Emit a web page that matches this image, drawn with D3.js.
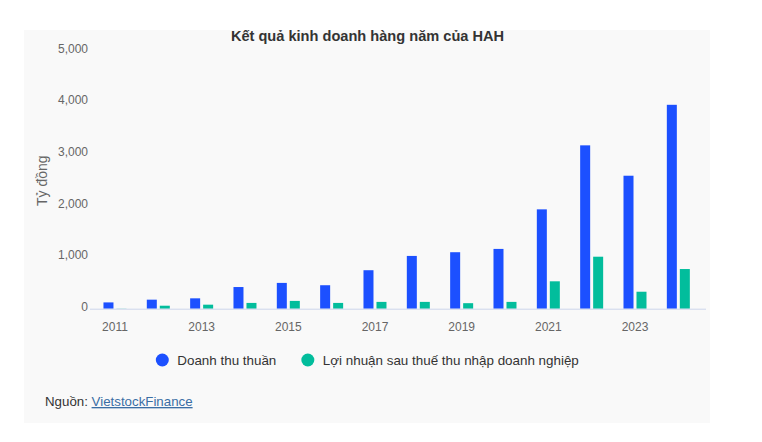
<!DOCTYPE html>
<html>
<head>
<meta charset="utf-8">
<script src="https://cdn.jsdelivr.net/npm/d3@7"></script>
<style>
    body { margin: 0; background: #ffffff; font-family: "Liberation Sans", Arial, sans-serif; }
    #wrapper svg { display: block; }
</style>
</head>
<body>
<div id="wrapper"></div>
<script>
// data
const years = ["2011", "2012", "2013", "2014", "2015", "2016", "2017",
    "2018", "2019", "2020", "2021", "2022", "2023", "2024"]
const revenue = [122, 175, 201, 420, 500, 455, 746, 1023, 1095, 1159, 1926, 3167, 2578, 3953]
const profit = [3, 58, 78, 112, 151, 112, 132, 132, 107, 132, 531, 1008, 329, 769]
const seriesNames = ["Doanh thu thuần", "Lợi nhuận sau thuế thu nhập doanh nghiệp"]
const seriesColors = ["#1c50ff", "#02bd9c"]
const yTicks = [0, 1000, 2000, 3000, 4000, 5000]
const xTickLabels = ["2011", "2013", "2015", "2017", "2019", "2021", "2023"]

function drawBarChart() {
    const dataset = years.map((y, i) => ({ year: y, values: [revenue[i], profit[i]] }))

    // chart dimensions
    let dimensions = {
        width: 762,
        height: 442,
        plot: { left: 93.3, right: 700, top: 50.8, bottom: 308.7 }
    }

    const wrapper = d3.select("#wrapper")
        .append("svg")
        .attr("width", dimensions.width)
        .attr("height", dimensions.height)

    // panel background
    wrapper.append("rect")
        .attr("x", 24)
        .attr("y", 30)
        .attr("width", 686)
        .attr("height", 393)
        .attr("fill", "#f9f9f9")

    // title
    wrapper.append("text")
        .attr("x", 367.5)
        .attr("y", 40.5)
        .attr("text-anchor", "middle")
        .attr("font-size", 14.6)
        .attr("font-weight", "bold")
        .attr("fill", "#333333")
        .text("Kết quả kinh doanh hàng năm của HAH")

    // scales
    const yScale = d3.scaleLinear()
        .domain([0, 5000])
        .range([dimensions.plot.bottom, dimensions.plot.top])

    const xScale = d3.scaleBand()
        .domain(years)
        .range([dimensions.plot.left, dimensions.plot.right])

    const xInner = d3.scaleBand()
        .domain(d3.range(seriesNames.length))
        .range([-11.5, 11.5])
        .paddingInner(0.23)

    // y axis labels
    const yAxis = wrapper.append("g")
        .attr("id", "y-axis")
        .attr("font-size", 12)
        .attr("fill", "#666666")

    yAxis.selectAll("text")
        .data(yTicks)
        .enter().append("text")
        .attr("x", 88)
        .attr("y", d => yScale(d) + 2)
        .attr("text-anchor", "end")
        .text(d => d3.format(",")(d))

    wrapper.append("text")
        .attr("transform", `translate(47, ${(dimensions.plot.top + dimensions.plot.bottom) / 2 + 1}) rotate(-90)`)
        .attr("text-anchor", "middle")
        .attr("font-size", 14)
        .attr("fill", "#666666")
        .text("Tỷ đồng")

    // bars
    const groups = wrapper.append("g")
        .selectAll("g")
        .data(dataset)
        .enter().append("g")
        .attr("transform", d => `translate(${xScale(d.year) + xScale.bandwidth() / 2}, 0)`)

    groups.selectAll("rect")
        .data(d => d.values)
        .enter().append("rect")
        .attr("x", (d, i) => xInner(i))
        .attr("y", d => yScale(d))
        .attr("width", xInner.bandwidth())
        .attr("height", d => yScale(0) - yScale(d))
        .attr("fill", (d, i) => seriesColors[i])

    // x axis
    wrapper.append("line")
        .attr("x1", 90)
        .attr("x2", 706)
        .attr("y1", yScale(0) + 0.5)
        .attr("y2", yScale(0) + 0.5)
        .attr("stroke", "#ccd6eb")
        .attr("stroke-width", 1)

    wrapper.append("g")
        .attr("id", "x-axis")
        .attr("font-size", 12)
        .attr("fill", "#666666")
        .selectAll("text")
        .data(xTickLabels)
        .enter().append("text")
        .attr("x", d => xScale(d) + xScale.bandwidth() / 2)
        .attr("y", 330.5)
        .attr("text-anchor", "middle")
        .text(d => d)

    // legend
    const legend = wrapper.append("g")
        .attr("font-size", 13.4)
        .attr("fill", "#333333")

    let cursor = 155.8
    seriesNames.forEach((name, i) => {
        legend.append("circle")
            .attr("cx", cursor + 6.5)
            .attr("cy", 360)
            .attr("r", 6.5)
            .attr("fill", seriesColors[i])
        const label = legend.append("text")
            .attr("x", cursor + 21.5)
            .attr("y", 365)
            .text(name)
        cursor += 21.5 + label.node().getComputedTextLength() + 25
    })

    // source
    const source = wrapper.append("text")
        .attr("x", 45)
        .attr("y", 406)
        .attr("font-size", 13.3)
        .attr("fill", "#333333")
    source.append("tspan").text("Nguồn: ")
    source.append("tspan")
        .attr("fill", "#3a6ea5")
        .attr("text-decoration", "underline")
        .text("VietstockFinance")
}

drawBarChart()
</script>
</body>
</html>
